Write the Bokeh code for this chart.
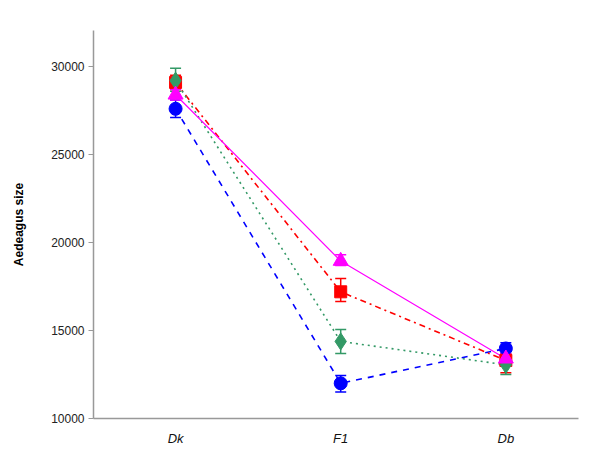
from bokeh.plotting import figure
from bokeh.models import ColumnDataSource, Whisker, TeeHead, FixedTicker, Range1d
from bokeh.embed import file_html
from bokeh.resources import INLINE

categories = ["Dk", "F1", "Db"]
xpos = [1, 2, 3]

blue_vals = [27600, 12000, 13980]
blue_lo = [27100, 11500, 13650]
blue_hi = [28100, 12450, 14300]

red_vals = [29100, 17200, 13300]
red_lo = [28700, 16650, 12600]
red_hi = [29500, 17950, 13700]

green_vals = [29200, 14380, 13050]
green_lo = [28600, 13700, 12500]
green_hi = [29900, 15060, 13500]

magenta_vals = [28400, 18950, 13400]
magenta_lo = [28100, 18700, 13150]
magenta_hi = [28700, 19300, 13650]

yticks = [10000, 15000, 20000, 25000, 30000]

p = figure(width=592, height=449, output_backend="svg", toolbar_location=None,
           x_range=Range1d(0.503, 3.44), y_range=Range1d(10000, 32050),
           min_border_left=93, min_border_right=14, min_border_top=30, min_border_bottom=31)
p.outline_line_color = None
p.xgrid.visible = False
p.ygrid.visible = False
p.background_fill_color = "white"

series = [
    ("#0000FF", blue_vals, blue_lo, blue_hi, "dashed", 1.6, "circle", 13),
    ("#FF0000", red_vals, red_lo, red_hi, "dashdot", 1.6, "square", 12),
    ("#339966", green_vals, green_lo, green_hi, "dotted", 1.6, "diamond", 17),
    ("#FF00FF", magenta_vals, magenta_lo, magenta_hi, "solid", 1.2, "triangle", 15),
]

for color, vals, lo, hi, dash, lw, marker, size in series:
    p.line(xpos, vals, line_color=color, line_dash=dash, line_width=lw)

for color, vals, lo, hi, dash, lw, marker, size in series:
    src = ColumnDataSource(dict(x=xpos, y=vals, lo=lo, hi=hi))
    w = Whisker(source=src, base="x", lower="lo", upper="hi", line_color=color, line_width=1.5,
                upper_head=TeeHead(size=11, line_color=color, line_width=1.5),
                lower_head=TeeHead(size=11, line_color=color, line_width=1.5))
    p.add_layout(w)
    p.scatter("x", "y", source=src, marker=marker, size=size, fill_color=color, line_color=color)

p.xaxis.ticker = FixedTicker(ticks=xpos)
p.xaxis.major_label_overrides = {x: c for x, c in zip(xpos, categories)}
p.xaxis.major_tick_line_color = None
p.xaxis.minor_tick_line_color = None
p.xaxis.axis_line_color = "#999999"
p.xaxis.axis_line_width = 1.5
p.xaxis.major_label_text_font = "Liberation Sans"
p.xaxis.major_label_text_font_style = "italic"
p.xaxis.major_label_text_font_size = "13px"
p.xaxis.major_label_text_color = "#111111"
p.xaxis.major_label_standoff = 6

p.yaxis.ticker = FixedTicker(ticks=yticks)
p.yaxis.minor_tick_line_color = None
p.yaxis.major_tick_out = 5
p.yaxis.major_tick_in = 0
p.yaxis.major_tick_line_color = "#999999"
p.yaxis.axis_line_color = "#999999"
p.yaxis.axis_line_width = 1.5
p.yaxis.major_label_text_font = "Liberation Sans"
p.yaxis.major_label_text_font_size = "12px"
p.yaxis.major_label_text_color = "#222222"
p.yaxis.major_label_standoff = 4
p.yaxis.axis_label = "Aedeagus size"
p.yaxis.axis_label_text_font = "Liberation Sans"
p.yaxis.axis_label_text_font_style = "bold"
p.yaxis.axis_label_text_font_size = "12px"
p.yaxis.axis_label_text_color = "#000000"
p.yaxis.axis_label_standoff = 22

open("out.html", "w").write(file_html(p, INLINE))
